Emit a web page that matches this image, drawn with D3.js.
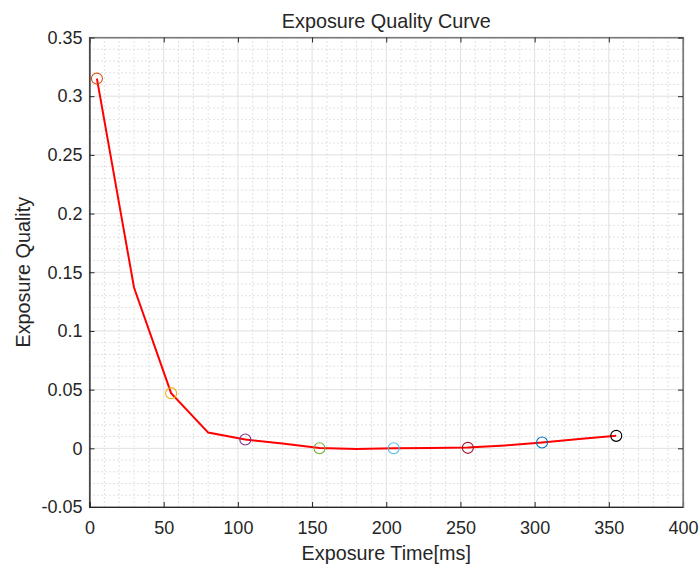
<!DOCTYPE html>
<html><head><meta charset="utf-8">
<script src="https://cdn.jsdelivr.net/npm/d3@7"></script>
<style>body{margin:0;background:#fff}svg{display:block}text{font-family:"Liberation Sans",Arial,sans-serif;fill:#262626}</style>
</head><body><svg id="c" width="700" height="566"></svg>
<script>
const lineX = [5,30,55,80,105,130,155,180,205,230,255,280,305,330,355];
const lineY = [0.315,0.137,0.047,0.0134,0.0075,0.004,0.0002,-0.0006,0.0,0.0002,0.0006,0.0025,0.005,0.008,0.0107];
const markerX = [5,55,105,155,205,255,305,355];
const markerY = [0.315,0.047,0.0075,0.0,0.0,0.0004,0.005,0.0106];
const markerColors = ["#D95319","#EDB120","#7E2F8E","#77AC30","#4DBEEE","#A2142F","#0072BD","#000000"];
const xTicks = [0,50,100,150,200,250,300,350,400];
const yTicks = [-0.05,0,0.05,0.1,0.15,0.2,0.25,0.3,0.35];
const yTickLabels = ["-0.05","0","0.05","0.1","0.15","0.2","0.25","0.3","0.35"];
const xMinor = d3.range(0,401,10);
const yMinor = d3.range(-50,351,10).map(v=>v/1000);
const title = "Exposure Quality Curve", xLabel = "Exposure Time[ms]", yLabel = "Exposure Quality";

const L=89.5,R=683,T=37.5,B=507;
const svg=d3.select("#c");
const x=d3.scaleLinear().domain([0,400]).range([L,R]);
const y=d3.scaleLinear().domain([-0.05,0.35]).range([B,T]);
const g=svg.append("g");
// minor grid
g.selectAll(".mx").data(xMinor.filter(v=>v%50!==0)).join("line")
 .attr("x1",d=>x(d)).attr("x2",d=>x(d)).attr("y1",T).attr("y2",B)
 .attr("stroke","#c4c4c4").attr("stroke-dasharray","1,3").attr("stroke-width",1);
g.selectAll(".my").data(yMinor.filter(v=>Math.abs(Math.round(v*1000))%50!==0)).join("line")
 .attr("y1",d=>y(d)).attr("y2",d=>y(d)).attr("x1",L).attr("x2",R)
 .attr("stroke","#c4c4c4").attr("stroke-dasharray","1,3").attr("stroke-width",1);
// major grid
g.selectAll(".gx").data(xTicks).join("line")
 .attr("x1",d=>x(d)).attr("x2",d=>x(d)).attr("y1",T).attr("y2",B)
 .attr("stroke","#e0e0e0").attr("stroke-width",1);
g.selectAll(".gy").data(yTicks).join("line")
 .attr("y1",d=>y(d)).attr("y2",d=>y(d)).attr("x1",L).attr("x2",R)
 .attr("stroke","#e0e0e0").attr("stroke-width",1);
// box
svg.append("rect").attr("x",L).attr("y",T).attr("width",R-L).attr("height",B-T)
 .attr("fill","none").attr("stroke","#7a7a7a").attr("stroke-width",1.2);
// axes
const xa=svg.append("g").attr("transform",`translate(0,${B})`)
 .call(d3.axisBottom(x).tickValues(xTicks).tickSize(-5).tickPadding(14).tickFormat(d3.format("d")));
const ya=svg.append("g").attr("transform",`translate(${L},0)`)
 .call(d3.axisLeft(y).tickValues(yTicks).tickSize(-5).tickPadding(7).tickFormat((d,i)=>yTickLabels[i]));
svg.append("g").attr("transform",`translate(0,${T})`)
 .call(d3.axisTop(x).tickValues(xTicks).tickSize(-5).tickFormat(""));
svg.append("g").attr("transform",`translate(${R},0)`)
 .call(d3.axisRight(y).tickValues(yTicks).tickSize(-5).tickFormat(""));
svg.selectAll(".domain").attr("stroke","#262626").attr("stroke-width",1.2);
svg.selectAll(".tick line").attr("stroke","#262626");
[xa,ya].forEach(a=>a.selectAll("text").style("font-size","18px").attr("fill","#262626").style("font-family","Liberation Sans, Arial, sans-serif"));
svg.selectAll("g").filter(function(){return this.getAttribute("transform")===`translate(0,${T})`||this.getAttribute("transform")===`translate(${R},0)`;}).select(".domain").attr("stroke","#7a7a7a");
// line
svg.append("path").datum(lineX.map((v,i)=>[v,lineY[i]]))
 .attr("d",d3.line().x(d=>x(d[0])).y(d=>y(d[1])))
 .attr("fill","none").attr("stroke","#ff0000").attr("stroke-width",2);
// markers
svg.selectAll(".mk").data(markerX.map((v,i)=>({x:v,y:markerY[i],c:markerColors[i]}))).join("circle")
 .attr("cx",d=>x(d.x)).attr("cy",d=>y(d.y)).attr("r",5.5)
 .attr("fill","none").attr("stroke",d=>d.c).attr("stroke-width",1.1);
// labels
svg.append("text").attr("x",(L+R)/2).attr("y",28).attr("text-anchor","middle").style("font-size","19.8px").text(title);
svg.append("text").attr("x",(L+R)/2).attr("y",560).attr("text-anchor","middle").style("font-size","19.8px").text(xLabel);
svg.append("text").attr("transform",`translate(29.5,${(T+B)/2}) rotate(-90)`).attr("text-anchor","middle").style("font-size","19.8px").text(yLabel);
</script></body></html>
